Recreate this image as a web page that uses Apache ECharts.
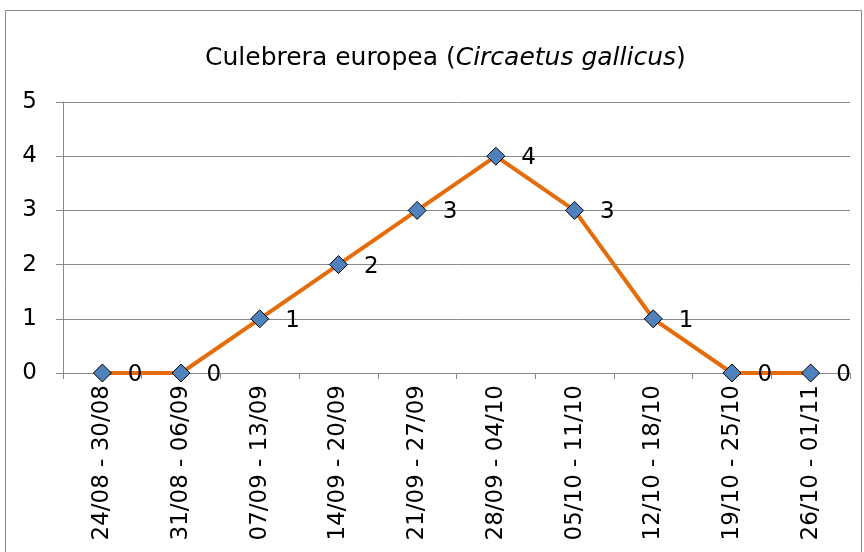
<!DOCTYPE html>
<html>
<head>
<meta charset="utf-8">
<script src="https://cdn.jsdelivr.net/npm/echarts@6/dist/echarts.min.js"></script>
<style>
html, body { margin: 0; padding: 0; background: #fff; }
#chart { width: 864px; height: 552px; }
</style>
</head>
<body>
<div id="chart"></div>
<script>
// semanas y observaciones
var categorias = ['24/08 - 30/08', '31/08 - 06/09', '07/09 - 13/09', '14/09 - 20/09', '21/09 - 27/09',
	'28/09 - 04/10', '05/10 - 11/10', '12/10 - 18/10', '19/10 - 25/10', '26/10 - 01/11'];
var valores = [0, 0, 1, 2, 3, 4, 3, 1, 0, 0];
var ejeY = { min: 0, max: 5, interval: 1 };

var fuente = '"DejaVu Sans", "Open Sans", sans-serif';
var chart = echarts.init(document.getElementById('chart'));

chart.setOption({
	animation: false,
	backgroundColor: '#fff',
	graphic: [{
		type: 'rect',
		shape: { x: 5.5, y: 10.5, width: 856, height: 560 },
		style: { fill: 'none', stroke: '#888', lineWidth: 1 },
		silent: true
	}],
	title: {
		text: '{n|Culebrera europea (}{i|Circaetus gallicus}{n|)}',
		left: 200,
		top: 41,
		textStyle: {
			fontWeight: 'normal',
			rich: {
				n: { fontFamily: fuente, fontSize: 25, fontWeight: 'normal', color: '#000' },
				i: { fontFamily: fuente, fontSize: 25, fontWeight: 'normal', fontStyle: 'italic', color: '#000' }
			}
		}
	},
	grid: { left: 63, right: 14, top: 102, bottom: 179, containLabel: false },
	xAxis: {
		type: 'category',
		data: categorias,
		boundaryGap: true,
		axisLine: { lineStyle: { color: '#888', width: 1 } },
		axisTick: { show: true, length: 6, lineStyle: { color: '#888' } },
		axisLabel: {
			rotate: 90,
			interval: 0,
			margin: 12,
			color: '#000',
			fontFamily: fuente,
			fontSize: 23
		}
	},
	yAxis: {
		type: 'value',
		min: ejeY.min,
		max: ejeY.max,
		interval: ejeY.interval,
		axisLine: { show: true, lineStyle: { color: '#888', width: 1 } },
		axisTick: { show: true, length: 7, lineStyle: { color: '#888' } },
		splitLine: { lineStyle: { color: '#888', width: 1 } },
		axisLabel: { color: '#000', fontFamily: fuente, fontSize: 23, margin: 26 }
	},
	series: [{
		type: 'line',
		data: valores,
		symbol: 'diamond',
		symbolSize: 18,
		lineStyle: { color: '#E46C0A', width: 4 },
		itemStyle: { color: '#4F81BD', borderColor: '#000', borderWidth: 1 },
		label: {
			show: true,
			position: 'right',
			distance: 16,
			offset: [0, 2],
			color: '#000',
			fontFamily: fuente,
			fontSize: 23
		}
	}]
});
</script>
</body>
</html>
